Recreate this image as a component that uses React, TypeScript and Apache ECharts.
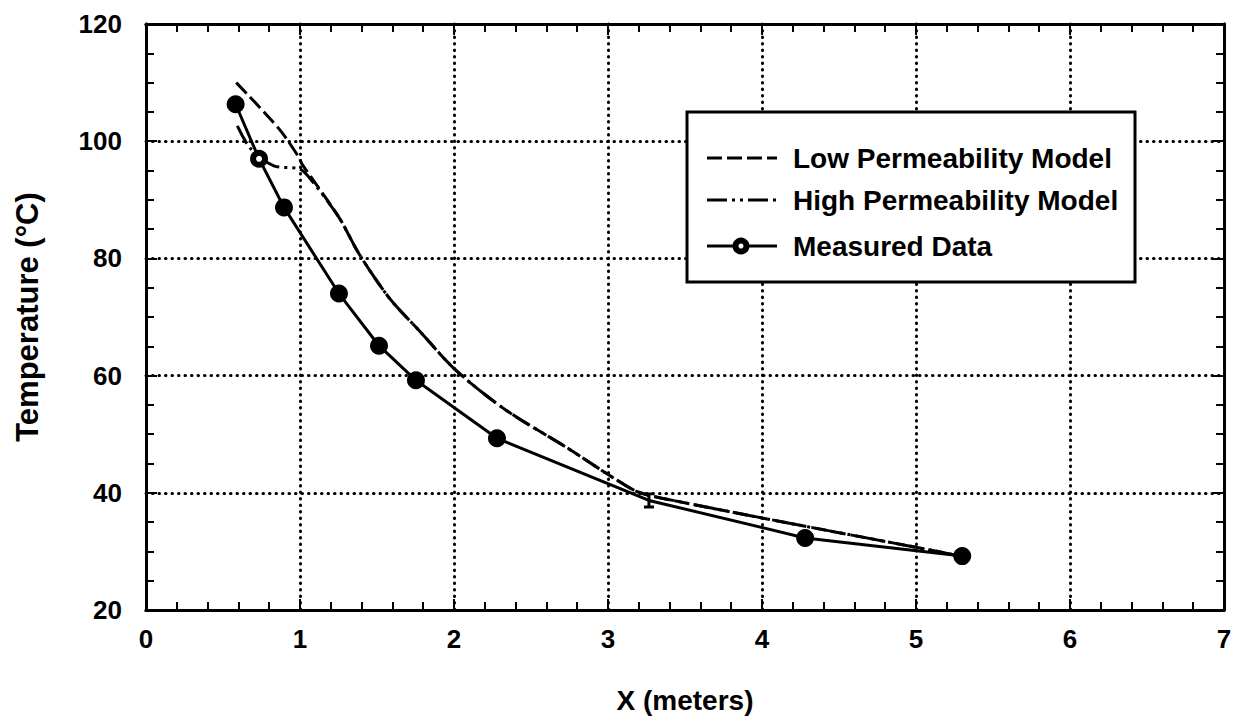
import React, { useEffect, useRef } from "react";
import * as echarts from "echarts";

const lowPermX = [0.586, 0.864, 0.994, 1.013, 1.253, 1.383, 1.578, 1.773, 2.013, 2.338, 2.727, 3.026, 3.2, 3.48, 4.24, 5.1, 5.25];
const lowPermY = [110.0, 102.1, 97.2, 96.1, 87.0, 80.8, 73.3, 67.7, 60.9, 54.1, 47.8, 42.7, 40.1, 38.4, 34.5, 30.2, 29.4];

const highPermX = [0.593, 0.68, 0.83, 0.994, 1.06, 1.253, 1.383, 1.578, 1.773, 2.013, 2.338, 2.727, 3.026, 3.2, 3.48, 4.24, 5.1, 5.25];
const highPermY = [102.6, 98.7, 95.8, 95.3, 93.8, 87.0, 80.8, 73.3, 67.7, 60.9, 54.1, 47.8, 42.7, 40.1, 38.4, 34.5, 30.2, 29.4];

const measX = [0.582, 0.734, 0.896, 1.253, 1.513, 1.753, 2.279, 3.266, 4.28, 5.3];
const measY = [106.3, 97.0, 88.7, 74.0, 65.1, 59.2, 49.3, 38.7, 32.3, 29.2];

const seriesNames = ["Low Permeability Model", "High Permeability Model", "Measured Data"];
const xTicks = { min: 0, max: 7, interval: 1 };
const yTicks = { min: 20, max: 120, interval: 20 };

const FONT = "'Liberation Sans', Arial, Helvetica, sans-serif";
const LOW_DASH = [15, 5];
const HIGH_DASH = [20, 5, 3, 5, 3, 5];

export default function App() {
  const ref = useRef<HTMLDivElement>(null);
  useEffect(() => {
    if (!ref.current) return;
    const chart = echarts.init(ref.current, undefined, { renderer: "svg" });
    const zip = (xs: number[], ys: number[]) => xs.map((x, i) => [x, ys[i]]);
    const measData = measX.map((x, i) => {
      const item: any = { value: [x, measY[i]] };
      if (i === 1) {
        item.symbolSize = 12;
        item.itemStyle = { color: "#fff", borderColor: "#000", borderWidth: 6 };
      }
      if (i === 7) {
        item.symbol = "path://M0 0H8V2.5H5.2V11.5H8V14H0V11.5H2.8V2.5H0Z";
        item.symbolSize = [10, 16];
      }
      return item;
    });
    const axisCommon = {
      axisLine: { show: true, onZero: false, lineStyle: { color: "#000", width: 3 } },
      axisTick: { show: true, inside: true, length: 11, lineStyle: { color: "#000", width: 2 } },
      minorTick: { show: true, length: 8, lineStyle: { color: "#000", width: 2 } },
    };
    const gridDots = { color: "#000", width: 3, type: [0.5, 6], cap: "round" };
    const labelStyle = { fontSize: 26, fontWeight: "bold", color: "#000", fontFamily: FONT };

    // legend drawn as graphic
    const lx0 = 707, lx1 = 777, tx = 793;
    const rows = [158, 200, 246];
    const legendGraphic: any[] = [
      {
        type: "rect",
        z: 10,
        shape: { x: 687, y: 112, width: 448, height: 170 },
        style: { fill: "#fff", stroke: "#000", lineWidth: 3 },
      },
      {
        type: "line",
        z: 11,
        shape: { x1: lx0, y1: rows[0], x2: lx1, y2: rows[0] },
        style: { stroke: "#000", lineWidth: 3, lineDash: LOW_DASH },
      },
      {
        type: "line",
        z: 11,
        shape: { x1: lx0, y1: rows[1], x2: lx1, y2: rows[1] },
        style: { stroke: "#000", lineWidth: 3, lineDash: HIGH_DASH },
      },
      {
        type: "line",
        z: 11,
        shape: { x1: lx0, y1: rows[2], x2: lx1, y2: rows[2] },
        style: { stroke: "#000", lineWidth: 3 },
      },
      {
        type: "circle",
        z: 12,
        shape: { cx: (lx0 + lx1) / 2 - 1, cy: rows[2], r: 5.5 },
        style: { fill: "#fff", stroke: "#000", lineWidth: 6 },
      },
      ...seriesNames.map((n, i) => ({
        type: "text",
        z: 12,
        style: {
          text: n,
          x: tx,
          y: rows[i],
          fill: "#000",
          fontSize: 28,
          fontWeight: "bold",
          fontFamily: FONT,
          verticalAlign: "middle",
          align: "left",
        },
      })),
    ];

    chart.setOption({
      animation: false,
      backgroundColor: "#fff",
      grid: { left: 146, right: 25, top: 24, bottom: 115, containLabel: false },
      xAxis: [
        {
          type: "value",
          ...xTicks,
          name: "X (meters)",
          nameLocation: "middle",
          nameGap: 76,
          nameTextStyle: { fontSize: 28, fontWeight: "bold", color: "#000", fontFamily: FONT },
          ...axisCommon,
          minorTick: { ...axisCommon.minorTick, splitNumber: 5 },
          axisLabel: { ...labelStyle, margin: 16 },
          splitLine: { show: true, lineStyle: gridDots },
        },
        {
          type: "value",
          ...xTicks,
          position: "top",
          ...axisCommon,
          minorTick: { ...axisCommon.minorTick, splitNumber: 5 },
          axisLabel: { show: false },
          splitLine: { show: false },
        },
      ],
      yAxis: [
        {
          type: "value",
          ...yTicks,
          name: "Temperature (°C)",
          nameLocation: "middle",
          nameGap: 103,
          nameTextStyle: { fontSize: 31, fontWeight: "bold", color: "#000", fontFamily: FONT },
          ...axisCommon,
          minorTick: { ...axisCommon.minorTick, splitNumber: 4 },
          axisLabel: { ...labelStyle, margin: 24 },
          splitLine: { show: true, lineStyle: gridDots },
        },
        {
          type: "value",
          ...yTicks,
          position: "right",
          ...axisCommon,
          minorTick: { ...axisCommon.minorTick, splitNumber: 4 },
          axisLabel: { show: false },
          splitLine: { show: false },
        },
      ],
      graphic: legendGraphic,
      series: [
        {
          name: seriesNames[0],
          type: "line",
          data: zip(lowPermX, lowPermY),
          showSymbol: false,
          symbol: "none",
          smooth: 0.3,
          lineStyle: { color: "#000", width: 3, type: LOW_DASH },
        },
        {
          name: seriesNames[1],
          type: "line",
          data: zip(highPermX, highPermY),
          showSymbol: false,
          symbol: "none",
          smooth: 0.3,
          lineStyle: { color: "#000", width: 3, type: HIGH_DASH },
        },
        {
          name: seriesNames[2],
          type: "line",
          data: measData,
          symbol: "circle",
          symbolSize: 18,
          lineStyle: { color: "#000", width: 3 },
          itemStyle: { color: "#000" },
          z: 4,
        },
      ],
    });
    return () => chart.dispose();
  }, []);
  return <div ref={ref} style={{ width: 1249, height: 725, position: "absolute", left: 0, top: 0 }} />;
}
